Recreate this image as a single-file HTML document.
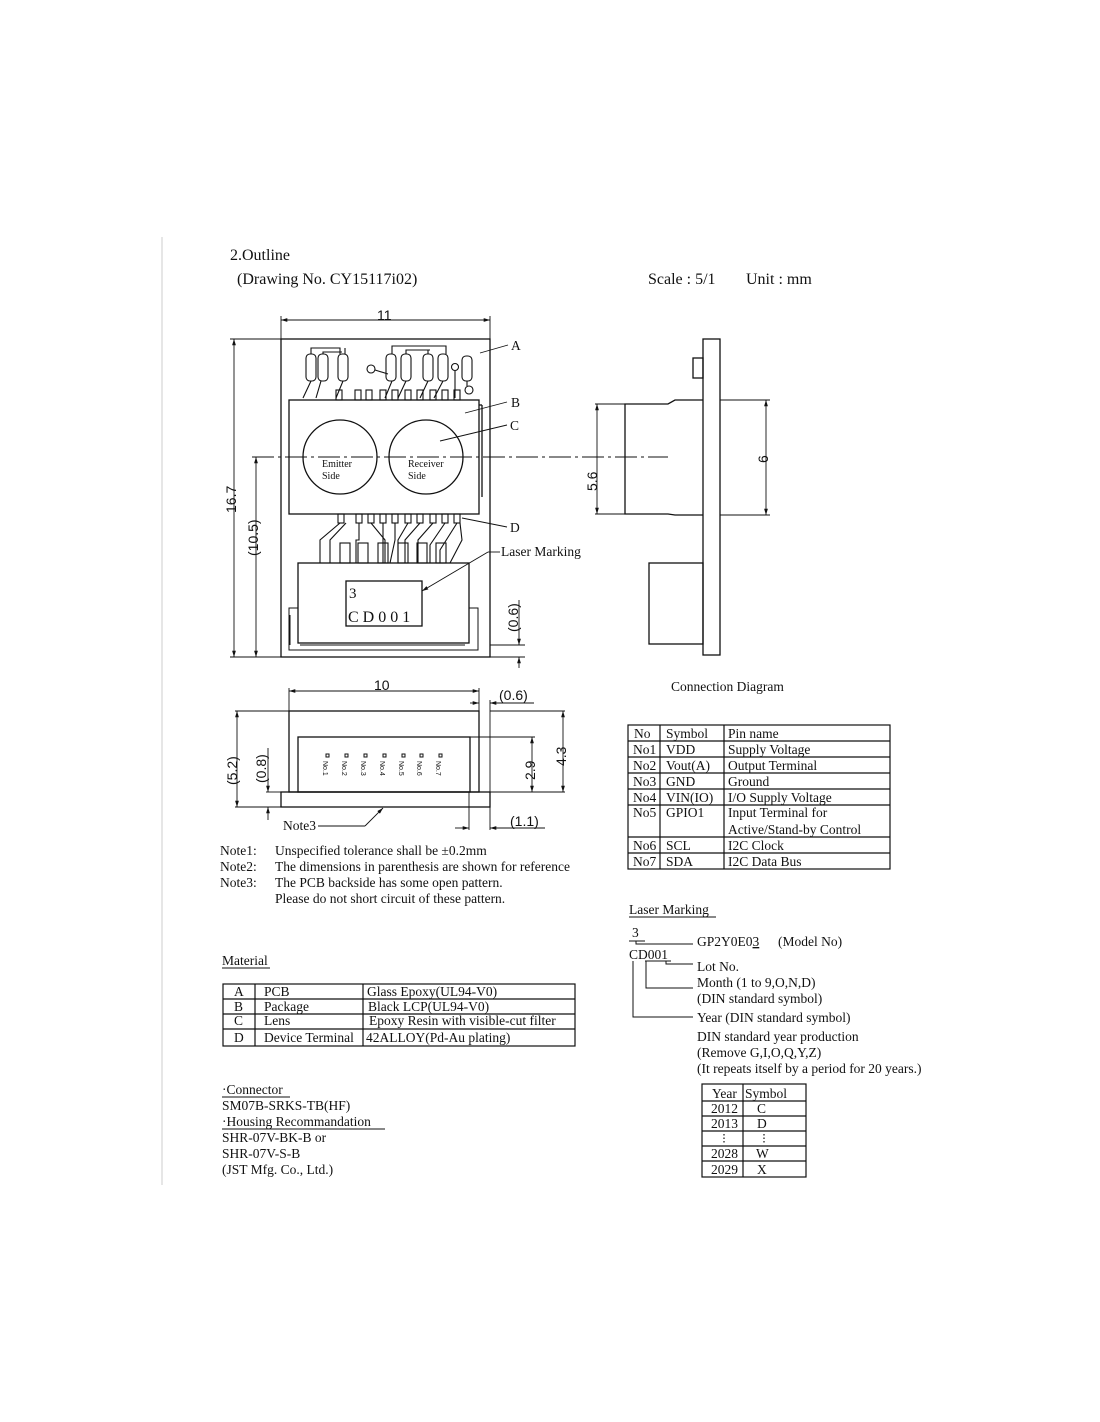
<!DOCTYPE html>
<html><head><meta charset="utf-8"><style>
html,body{margin:0;padding:0;background:#fff;}
svg{display:block;}
.s{font-family:"Liberation Serif",serif;fill:#111;}
.a{font-family:"Liberation Sans",sans-serif;fill:#111;}
</style></head><body>
<svg width="1100" height="1422" viewBox="0 0 1100 1422" xmlns="http://www.w3.org/2000/svg" stroke-linecap="butt">
<defs>
<marker id="ar" viewBox="0 0 10 10" refX="10" refY="5" markerWidth="7" markerHeight="7" orient="auto-start-reverse"><path d="M0,2 L10,5 L0,8 z" fill="#111"/></marker>
</defs>
<line x1="162" y1="237" x2="162" y2="1185" stroke="#ccc" stroke-width="1"/>
<text class="s" x="230" y="260" font-size="16">2.Outline</text>
<text class="s" x="237" y="284" font-size="16">(Drawing No. CY15117i02)</text>
<text class="s" x="648" y="284" font-size="16">Scale : 5/1</text>
<text class="s" x="746" y="284" font-size="16">Unit : mm</text>

<g fill="none" stroke="#111" stroke-width="1.3">
<rect x="281" y="339" width="209" height="318"/>
<rect x="289" y="400" width="190" height="114"/>
<line x1="479" y1="405" x2="482" y2="405"/><line x1="482" y1="405" x2="482" y2="497"/>
<circle cx="340" cy="457" r="37"/>
<circle cx="426" cy="457" r="37"/>
<g stroke-width="1.1">
<rect x="306" y="354" width="10" height="27" rx="4"/>
<rect x="318" y="354" width="10" height="27" rx="4"/>
<rect x="338" y="354" width="10" height="27" rx="4"/>
<rect x="386" y="354" width="10" height="27" rx="4"/>
<rect x="401" y="354" width="10" height="27" rx="4"/>
<rect x="423" y="354" width="10" height="27" rx="4"/>
<rect x="438" y="354" width="10" height="27" rx="4"/>
<rect x="462" y="356" width="10" height="25" rx="4"/>
<circle cx="371" cy="369" r="4"/><circle cx="455" cy="367" r="3.5"/><circle cx="469" cy="390" r="4"/>
<path d="M311,354 V348 H340 V354 M323,354 V352 H342 M345,354 V348 M392,354 V346 H446 V354 M406,354 V350 H430 M428,354 V350"/>
<path d="M311,381 L303,398 M321,381 L316,398 M343,381 L336,398 M375,370 L388,374 M392,381 L385,398 M406,381 L398,398 M428,381 L420,398 M443,381 L434,398 M455,371 V398 M467,381 V386"/>
<rect x="336" y="390" width="6" height="10"/><rect x="355" y="390" width="6" height="10"/><rect x="366" y="390" width="6" height="10"/><rect x="380" y="390" width="6" height="10"/><rect x="392" y="390" width="6" height="10"/><rect x="405" y="390" width="6" height="10"/><rect x="417" y="390" width="6" height="10"/><rect x="430" y="390" width="6" height="10"/><rect x="442" y="390" width="6" height="10"/><rect x="454" y="390" width="6" height="10"/>
<rect x="338" y="514" width="6" height="9"/><rect x="356" y="514" width="6" height="9"/><rect x="368" y="514" width="6" height="9"/><rect x="380" y="514" width="6" height="9"/><rect x="392" y="514" width="6" height="9"/><rect x="405" y="514" width="6" height="9"/><rect x="417" y="514" width="6" height="9"/><rect x="430" y="514" width="6" height="9"/><rect x="442" y="514" width="6" height="9"/><rect x="454" y="514" width="6" height="9"/>
<path d="M340,523 L320,540 V563 M346,523 L330,540 V563 M359,523 V540 H356 V563 M371,523 L385,540 V563 M383,523 V563 M395,523 V540 L390,563 M408,523 L398,540 V563 M420,523 L405,540 V563 M433,523 L418,540 V563 M445,523 L430,545 V563 M457,523 L440,550 V563 M460,523 L462,540 L450,563"/>
<rect x="340" y="543" width="10" height="20"/><rect x="358" y="543" width="10" height="20"/><rect x="378" y="543" width="10" height="20"/><rect x="398" y="543" width="10" height="20"/><rect x="417" y="543" width="10" height="20"/><rect x="436" y="543" width="10" height="20"/>
</g>
<rect x="298" y="563" width="171" height="80"/>
<rect x="346" y="581" width="76" height="45"/>
<path d="M298,608 H289 V650 H478 V608 H469 M290,615 V645 M478,615 V645 M300,645 H465" stroke-width="1"/>
<rect x="703" y="339" width="17" height="316"/>
<rect x="693" y="358" width="10" height="20"/>
<path d="M703,400 H675 L668,404 H625 V514 H668 L675,515 H703"/>
<rect x="649" y="563" width="54" height="81"/>
<rect x="289" y="711" width="190" height="81"/>
<rect x="298" y="737" width="172" height="55"/>
<rect x="281" y="792" width="209" height="15"/>
</g>
<g fill="none" stroke="#111" stroke-width="1">
<rect x="326" y="754" width="3" height="3"/><rect x="345" y="754" width="3" height="3"/><rect x="364" y="754" width="3" height="3"/><rect x="383" y="754" width="3" height="3"/><rect x="402" y="754" width="3" height="3"/><rect x="420" y="754" width="3" height="3"/><rect x="439" y="754" width="3" height="3"/>
</g>
<g class="a" font-size="7">
<text transform="translate(323,761) rotate(90)">No.1</text><text transform="translate(342,761) rotate(90)">No.2</text><text transform="translate(361,761) rotate(90)">No.3</text><text transform="translate(380,761) rotate(90)">No.4</text><text transform="translate(399,761) rotate(90)">No.5</text><text transform="translate(417,761) rotate(90)">No.6</text><text transform="translate(436,761) rotate(90)">No.7</text>
</g>

<line x1="252" y1="457" x2="668" y2="457" stroke="#111" stroke-width="1" stroke-dasharray="22,4,3,4"/>

<g fill="none" stroke="#111" stroke-width="0.9">
<line x1="281" y1="316" x2="281" y2="339"/><line x1="490" y1="316" x2="490" y2="339"/>
<line x1="281" y1="320" x2="490" y2="320" marker-start="url(#ar)" marker-end="url(#ar)"/>
<line x1="230" y1="339" x2="281" y2="339"/><line x1="230" y1="657" x2="281" y2="657"/>
<line x1="234" y1="339" x2="234" y2="657" marker-start="url(#ar)" marker-end="url(#ar)"/>
<line x1="256" y1="457" x2="256" y2="657" marker-start="url(#ar)" marker-end="url(#ar)"/>
<line x1="490" y1="645" x2="525" y2="645"/><line x1="490" y1="657" x2="525" y2="657"/>
<line x1="519" y1="600" x2="519" y2="645" marker-end="url(#ar)"/>
<line x1="519" y1="668" x2="519" y2="657" marker-end="url(#ar)"/>
<line x1="595" y1="404" x2="625" y2="404"/><line x1="595" y1="514" x2="625" y2="514"/>
<line x1="597" y1="404" x2="597" y2="514" marker-start="url(#ar)" marker-end="url(#ar)"/>
<line x1="720" y1="400" x2="770" y2="400"/><line x1="720" y1="515" x2="770" y2="515"/>
<line x1="766" y1="400" x2="766" y2="515" marker-start="url(#ar)" marker-end="url(#ar)"/>
<line x1="289" y1="688" x2="289" y2="711"/><line x1="479" y1="688" x2="479" y2="711"/>
<line x1="289" y1="691" x2="479" y2="691" marker-start="url(#ar)" marker-end="url(#ar)"/>
<line x1="490" y1="700" x2="490" y2="830"/>
<line x1="470" y1="703" x2="479" y2="703" marker-end="url(#ar)"/>
<line x1="500" y1="703" x2="490" y2="703" marker-end="url(#ar)"/>
<line x1="490" y1="703" x2="534" y2="703"/>
<line x1="235" y1="711" x2="289" y2="711"/><line x1="235" y1="807" x2="281" y2="807"/>
<line x1="237" y1="711" x2="237" y2="807" marker-start="url(#ar)" marker-end="url(#ar)"/>
<line x1="266" y1="792" x2="281" y2="792"/>
<line x1="268" y1="748" x2="268" y2="792" marker-end="url(#ar)"/>
<line x1="268" y1="820" x2="268" y2="807" marker-end="url(#ar)"/>
<line x1="470" y1="737" x2="535" y2="737"/><line x1="490" y1="792" x2="565" y2="792"/><line x1="490" y1="711" x2="565" y2="711"/>
<line x1="532" y1="737" x2="532" y2="792" marker-start="url(#ar)" marker-end="url(#ar)"/>
<line x1="563" y1="711" x2="563" y2="792" marker-start="url(#ar)" marker-end="url(#ar)"/>
<line x1="469" y1="792" x2="469" y2="830"/>
<line x1="455" y1="828" x2="469" y2="828" marker-end="url(#ar)"/>
<line x1="504" y1="828" x2="490" y2="828" marker-end="url(#ar)"/>
<line x1="490" y1="828" x2="545" y2="828"/>
<line x1="480" y1="353" x2="508" y2="345"/>
<line x1="465" y1="413" x2="507" y2="402"/>
<line x1="440" y1="441" x2="507" y2="425"/>
<line x1="462" y1="518" x2="507" y2="527"/>
<line x1="422" y1="591" x2="488" y2="552" marker-start="url(#ar)"/><line x1="488" y1="552" x2="500" y2="552"/>
<line x1="318" y1="826" x2="365" y2="826"/><line x1="365" y1="826" x2="383" y2="808" marker-end="url(#ar)"/>
</g>
<g class="a" font-size="14">
<text x="377" y="320">11</text>
<text x="374" y="690">10</text>
<text transform="translate(236,513) rotate(-90)">16.7</text>
<text transform="translate(258,556) rotate(-90)">(10.5)</text>
<text transform="translate(518,632) rotate(-90)">(0.6)</text>
<text transform="translate(597,491) rotate(-90)">5.6</text>
<text transform="translate(768,463) rotate(-90)">6</text>
<text transform="translate(237,785) rotate(-90)">(5.2)</text>
<text transform="translate(266,783) rotate(-90)">(0.8)</text>
<text transform="translate(535,780) rotate(-90)">2.9</text>
<text transform="translate(566,766) rotate(-90)">4.3</text>
<text x="499" y="700">(0.6)</text>
<text x="510" y="826">(1.1)</text>
</g>
<g class="s" font-size="13.5">
<text x="511" y="350">A</text><text x="511" y="407">B</text><text x="510" y="430">C</text><text x="510" y="532">D</text>
<text x="501" y="556">Laser Marking</text>
<text x="283" y="830">Note3</text>
</g>
<g class="s" font-size="10">
<text x="322" y="467">Emitter</text><text x="322" y="479">Side</text>
<text x="408" y="467">Receiver</text><text x="408" y="479">Side</text>
</g>
<text class="s" x="349" y="598" font-size="15">3</text>
<text class="s" x="348" y="622" font-size="16" letter-spacing="4">CD001</text>

<text class="s" x="671" y="691" font-size="13.5">Connection Diagram</text>

<g class="s" font-size="13.5">
<text x="220" y="855">Note1:</text><text x="275" y="855">Unspecified tolerance shall be ±0.2mm</text>
<text x="220" y="871">Note2:</text><text x="275" y="871">The dimensions in parenthesis are shown for reference</text>
<text x="220" y="887">Note3:</text><text x="275" y="887">The PCB backside has some open pattern.</text>
<text x="275" y="903">Please do not short circuit of these pattern.</text>
</g>

<g fill="none" stroke="#111" stroke-width="1.2">
<rect x="628" y="725" width="262" height="144"/>
<line x1="660" y1="725" x2="660" y2="869"/><line x1="724" y1="725" x2="724" y2="869"/>
<line x1="628" y1="741" x2="890" y2="741"/><line x1="628" y1="757" x2="890" y2="757"/><line x1="628" y1="773" x2="890" y2="773"/><line x1="628" y1="789" x2="890" y2="789"/><line x1="628" y1="805" x2="890" y2="805"/><line x1="628" y1="837" x2="890" y2="837"/><line x1="628" y1="853" x2="890" y2="853"/>
</g>
<g class="s" font-size="13.5">
<text x="634" y="738">No</text><text x="666" y="738">Symbol</text><text x="728" y="738">Pin name</text>
<text x="633" y="754">No1</text><text x="666" y="754">VDD</text><text x="728" y="754">Supply Voltage</text>
<text x="633" y="770">No2</text><text x="666" y="770">Vout(A)</text><text x="728" y="770">Output Terminal</text>
<text x="633" y="786">No3</text><text x="666" y="786">GND</text><text x="728" y="786">Ground</text>
<text x="633" y="802">No4</text><text x="666" y="802">VIN(IO)</text><text x="728" y="802">I/O Supply Voltage</text>
<text x="633" y="817">No5</text><text x="666" y="817">GPIO1</text><text x="728" y="817">Input Terminal for</text>
<text x="728" y="834">Active/Stand-by Control</text>
<text x="633" y="850">No6</text><text x="666" y="850">SCL</text><text x="728" y="850">I2C Clock</text>
<text x="633" y="866">No7</text><text x="666" y="866">SDA</text><text x="728" y="866">I2C Data Bus</text>
</g>

<g class="s" font-size="13.5">
<text x="629" y="914">Laser Marking</text>
<text x="632" y="937">3</text>
<text x="697" y="946">GP2Y0E0<tspan text-decoration="underline">3</tspan></text><text x="778" y="946">(Model No)</text>
<text x="629" y="959">CD001</text>
<text x="697" y="971">Lot No.</text>
<text x="697" y="987">Month (1 to 9,O,N,D)</text>
<text x="697" y="1003">(DIN standard symbol)</text>
<text x="697" y="1022">Year (DIN standard symbol)</text>
<text x="697" y="1041">DIN standard year production</text>
<text x="697" y="1057">(Remove G,I,O,Q,Y,Z)</text>
<text x="697" y="1073">(It repeats itself by a period for 20 years.)</text>
</g>
<g fill="none" stroke="#111" stroke-width="1">
<line x1="629" y1="917" x2="716" y2="917"/>
<line x1="629" y1="941" x2="645" y2="941"/>
<path d="M636,941 V944 H693 M660,961 H671 M666,961 V964 H693 M646,961 V988 H693 M633,961 V1017 H693"/>
<line x1="645" y1="961" x2="671" y2="961"/>
</g>

<g fill="none" stroke="#111" stroke-width="1.2">
<rect x="702" y="1084" width="104" height="93"/>
<line x1="743" y1="1084" x2="743" y2="1177"/>
<line x1="702" y1="1101" x2="806" y2="1101"/><line x1="702" y1="1116" x2="806" y2="1116"/><line x1="702" y1="1131" x2="806" y2="1131"/><line x1="702" y1="1146" x2="806" y2="1146"/><line x1="702" y1="1161" x2="806" y2="1161"/>
<line x1="724" y1="1134" x2="724" y2="1144" stroke-dasharray="1.5,2"/><line x1="764" y1="1134" x2="764" y2="1144" stroke-dasharray="1.5,2"/>
</g>
<g class="s" font-size="13.5">
<text x="712" y="1098">Year</text><text x="745" y="1098">Symbol</text>
<text x="711" y="1113">2012</text><text x="757" y="1113">C</text>
<text x="711" y="1128">2013</text><text x="757" y="1128">D</text>
<text x="711" y="1158">2028</text><text x="756" y="1158">W</text>
<text x="711" y="1174">2029</text><text x="757" y="1174">X</text>
</g>

<text class="s" x="222" y="965" font-size="13.5">Material</text>
<line x1="222" y1="968" x2="270" y2="968" stroke="#111"/>
<g fill="none" stroke="#111" stroke-width="1.2">
<rect x="223" y="984" width="352" height="62"/>
<line x1="255" y1="984" x2="255" y2="1046"/><line x1="363" y1="984" x2="363" y2="1046"/>
<line x1="223" y1="999" x2="575" y2="999"/><line x1="223" y1="1014" x2="575" y2="1014"/><line x1="223" y1="1029" x2="575" y2="1029"/>
</g>
<g class="s" font-size="13.5">
<text x="234" y="996">A</text><text x="264" y="996">PCB</text><text x="367" y="996">Glass Epoxy(UL94-V0)</text>
<text x="234" y="1011">B</text><text x="264" y="1011">Package</text><text x="368" y="1011">Black LCP(UL94-V0)</text>
<text x="234" y="1025">C</text><text x="264" y="1025">Lens</text><text x="369" y="1025">Epoxy Resin with visible-cut filter</text>
<text x="234" y="1042">D</text><text x="264" y="1042">Device Terminal</text><text x="366" y="1042">42ALLOY(Pd-Au plating)</text>
</g>

<g class="s" font-size="13.5">
<text x="222" y="1094">·Connector</text>
<text x="222" y="1110">SM07B-SRKS-TB(HF)</text>
<text x="222" y="1126">·Housing Recommandation</text>
<text x="222" y="1142">SHR-07V-BK-B or</text>
<text x="222" y="1158">SHR-07V-S-B</text>
<text x="222" y="1174">(JST Mfg. Co., Ltd.)</text>
</g>
<line x1="222" y1="1097" x2="290" y2="1097" stroke="#111"/>
<line x1="222" y1="1129" x2="385" y2="1129" stroke="#111"/>
</svg>
</body></html>
